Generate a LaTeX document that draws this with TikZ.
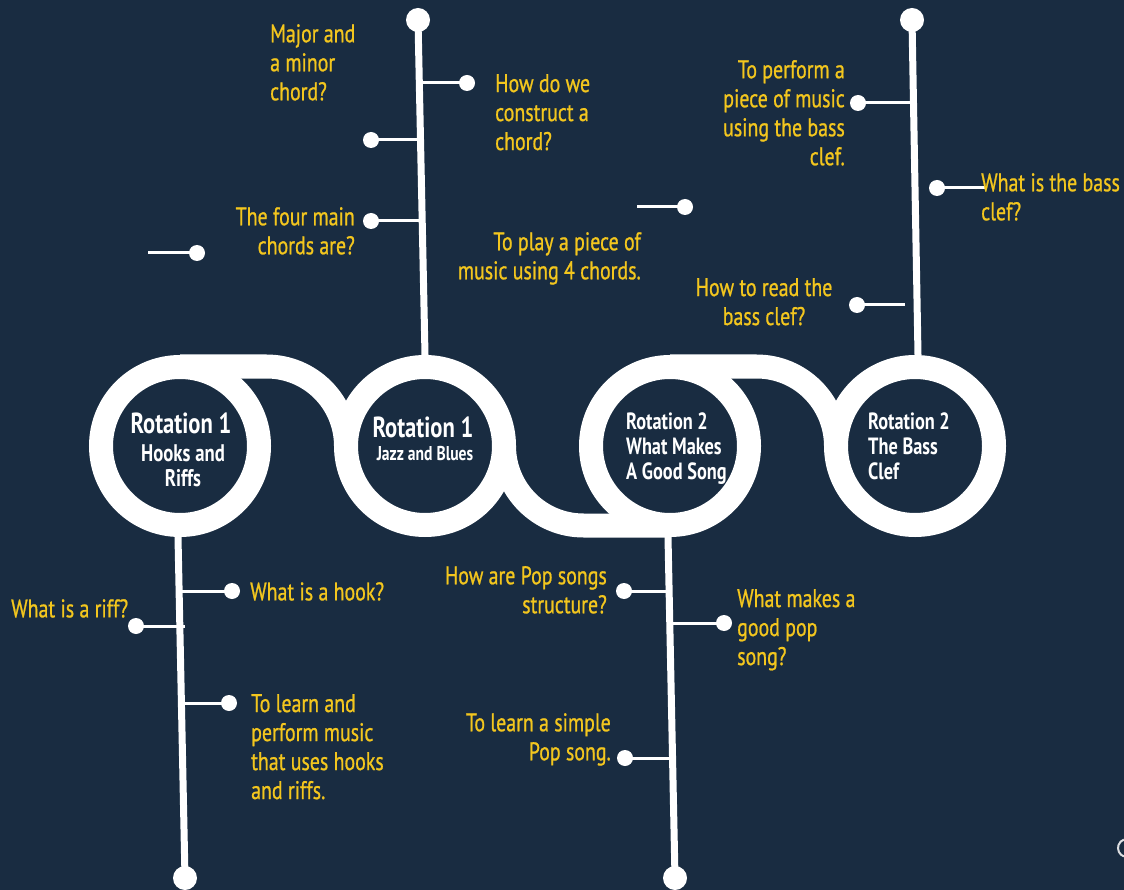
\documentclass[tikz,border=0pt]{standalone}
\usepackage{fontspec}
\setmainfont{PT Sans}[FakeStretch=0.78, UprightFeatures={FakeBold=0.8}]
\definecolor{bg}{HTML}{192C41}
\definecolor{yel}{HTML}{F3C61E}
\begin{document}
\begin{tikzpicture}[x=1pt,y=-1pt,
  ringnode/.style={circle, draw=white, line width=24pt, minimum size=158pt, inner sep=0pt},
  band/.style={draw=white, line width=24pt},
  stem/.style={draw=white, line width=7pt},
  twig/.style={draw=white, line width=3pt},
  enddot/.style={circle, fill=white, inner sep=0pt, minimum size=24pt},
  smalldot/.style={circle, fill=white, inner sep=0pt, minimum size=16pt},
  lbl/.style={text=yel, inner sep=0pt, font=\fontsize{25.5}{29}\selectfont},
  lbll/.style={lbl, align=left, anchor=north west},
  lblr/.style={lbl, align=right, anchor=north east},
  big/.style={text=white, inner sep=0pt, anchor=base, font=\bfseries\fontsize{29}{30}\selectfont},
  mid/.style={text=white, inner sep=0pt, anchor=base, font=\bfseries\fontsize{24}{25}\selectfont},
  midl/.style={text=white, inner sep=0pt, anchor=base west, font=\bfseries\fontsize{23.5}{25}\selectfont},
  small/.style={text=white, inner sep=0pt, anchor=base, font=\bfseries\fontsize{20}{22}\selectfont},
]
\fill[bg] (0,0) rectangle (1124,890);
\useasboundingbox (0,0) rectangle (1124,890);
\clip (0,0) rectangle (1124,890);

% rings
\node[ringnode] (c1) at (180,446) {};
\node[ringnode] (c2) at (425,446) {};
\node[ringnode] (c3) at (670,446) {};
\node[ringnode] (c4) at (915,446) {};

% connecting bands
\draw[band] (c1.center) ++(0,-79.5) -- ++(86.5,0) arc[start angle=-90, end angle=0, radius=79.5];
\draw[band] (c2.center) ++(79,0) arc[start angle=180, end angle=90, radius=79.5] -- ++(86.5,0);
\draw[band] (c3.center) ++(0,-79.5) -- ++(86.5,0) arc[start angle=-90, end angle=0, radius=79.5];

% stem end dots
\node[enddot] (ta) at (418,20) {};
\node[enddot] (tb) at (912,20) {};
\node[enddot] (bc) at (185,878) {};
\node[enddot] (bd) at (675,878) {};

% small dots
\node[smalldot] (da1) at (467,83) {};
\node[smalldot] (da2) at (371,140) {};
\node[smalldot] (da3) at (371,221) {};
\node[smalldot] (ds1) at (197,253) {};
\node[smalldot] (ds2) at (685,207) {};
\node[smalldot] (db1) at (858,103) {};
\node[smalldot] (db2) at (937,188) {};
\node[smalldot] (db3) at (857,305) {};
\node[smalldot] (dc1) at (232,591) {};
\node[smalldot] (dc2) at (136,626) {};
\node[smalldot] (dc3) at (229,703) {};
\node[smalldot] (dd1) at (624,591) {};
\node[smalldot] (dd2) at (724,623) {};
\node[smalldot] (dd3) at (625,758) {};

% branch ends
\coordinate (ea1) at (419,83);
\coordinate (ea2) at (420,140);
\coordinate (ea3) at (421,221);
\coordinate (es1) at (148,253);
\coordinate (es2) at (637,207);
\coordinate (eb1) at (913,103);
\coordinate (eb2) at (985,188);
\coordinate (eb3) at (905,305);
\coordinate (ec1) at (180,591);
\coordinate (ec2) at (185,626);
\coordinate (ec3) at (181,703);
\coordinate (ed1) at (669,591);
\coordinate (ed2) at (669,623);
\coordinate (ed3) at (672,758);

\foreach \a/\b in {ea1/da1,ea2/da2,ea3/da3,es1/ds1,es2/ds2,eb1/db1,eb2/db2,eb3/db3,ec1/dc1,ec2/dc2,ec3/dc3,ed1/dd1,ed2/dd2,ed3/dd3}
  \draw[twig] (\a) -- (\b.center);

% stems
\draw[stem] (c2.north) -- (ta.center);
\draw[stem] ([xshift=3pt]c4.north) -- (tb.center);
\draw[stem] ([xshift=-2pt]c1.south) -- (bc.center);
\draw[stem] ([xshift=-2pt]c3.south) -- (bd.center);

% circle texts
\node[big] (c1a) at (181,433) {Rotation 1};
\node[mid] (c1b) at (183,461) {Hooks and};
\node[mid] (c1c) at (183,486) {Riffs};
\node[big] (c2a) at (423,437) {Rotation 1};
\node[small] (c2b) at (425,460) {Jazz and Blues};
\node[midl] (c3a) at (626,429) {Rotation 2};
\node[midl] (c3b) at (626,454) {What Makes};
\node[midl] (c3c) at (626,479) {A Good Song};
\node[midl] (c4a) at (868,429) {Rotation 2};
\node[midl] (c4b) at (868,454) {The Bass};
\node[midl] (c4c) at (868,479) {Clef};

% labels
\node[lbll] (la1) at (495,74) {How do we\\construct a\\chord?};
\node[lbll] (la2) at (270,24) {Major and\\a minor\\chord?};
\node[lblr] (la3) at (355,207) {The four main\\chords are?};
\node[lblr] (la4) at (641,232) {To play a piece of\\music using 4 chords.};
\node[lblr] (lb1) at (845,60) {To perform a\\piece of music\\using the bass\\clef.};
\node[lbll] (lb2) at (981,173) {What is the bass\\clef?};
\node[lbl, align=center, anchor=north] (lb3) at (764,278) {How to read the\\bass clef?};
\node[lbll] (lc1) at (250,582) {What is a hook?};
\node[lbll] (lc2) at (11,599) {What is a riff?};
\node[lbll] (lc3) at (251,694) {To learn and\\perform music\\that uses hooks\\and riffs.};
\node[lblr] (ld1) at (607,566) {How are Pop songs\\structure?};
\node[lbll] (ld2) at (737,589) {What makes a\\good pop\\song?};
\node[lblr] (ld3) at (611,713) {To learn a simple\\Pop song.};

% faint partial ring at the lower right edge
\draw[white!85!bg, line width=2pt] (1127,848) ++(110:9) arc[start angle=110, end angle=250, radius=9];
\end{tikzpicture}
\end{document}
